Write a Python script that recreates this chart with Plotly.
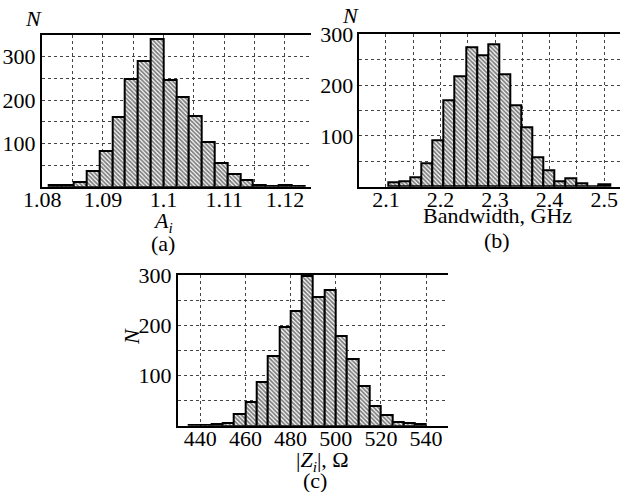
import plotly.graph_objects as go

# ---- data ----
a_centers = [1.08206, 1.08417, 1.08628, 1.08839, 1.0905, 1.09261, 1.09472, 1.09683, 1.09894, 1.10105,
             1.10316, 1.10527, 1.10738, 1.10949, 1.1116, 1.11371, 1.11582, 1.11793, 1.12004, 1.12215]
a_counts = [3, 4, 12, 37, 82, 160, 248, 290, 341, 247, 207, 164, 102, 55, 29, 15, 4, 2, 3, 2]
a_width = 0.00211

b_centers = [2.11445, 2.13475, 2.15505, 2.17535, 2.19565, 2.21595, 2.23625, 2.25655, 2.27685, 2.29715,
             2.31745, 2.33775, 2.35805, 2.37835, 2.39865, 2.41895, 2.43925, 2.45955, 2.47985, 2.50015]
b_counts = [8, 10, 18, 47, 92, 171, 217, 274, 259, 280, 222, 160, 116, 57, 32, 11, 16, 7, 1, 5]
b_width = 0.0203

c_centers = [437.5, 442.5, 447.5, 452.5, 457.5, 462.5, 467.5, 472.5, 477.5, 482.5, 487.5,
             492.5, 497.5, 502.5, 507.5, 512.5, 517.5, 522.5, 527.5, 532.5, 537.5]
c_counts = [1, 1, 3, 5, 23, 48, 87, 138, 197, 229, 298, 256, 270, 179, 133, 79, 39, 21, 7, 5, 3]
c_width = 5

a_ticks = [1.08, 1.085, 1.09, 1.095, 1.1, 1.105, 1.11, 1.115, 1.12]
a_ticktext = ["1.08", "", "1.09", "", "1.1", "", "1.11", "", "1.12"]
b_ticks = [2.1, 2.15, 2.2, 2.25, 2.3, 2.35, 2.4, 2.45, 2.5]
b_ticktext = ["2.1", "", "2.2", "", "2.3", "", "2.4", "", "2.5"]
c_ticks = [440, 460, 480, 500, 520, 540]
c_ticktext = ["440", "460", "480", "500", "520", "540"]
y_ticks = [50, 100, 150, 200, 250, 300, 350]
y_ticktext = ["", "100", "", "200", "", "300", ""]

FONT = "Liberation Serif"
W, H = 627, 492

bar_style = dict(
    marker=dict(color="white", line=dict(color="black", width=2),
                pattern=dict(shape="\\", size=3, solidity=0.6, fgcolor="black", bgcolor="white")),
    showlegend=False,
)

fig = go.Figure()
fig.add_trace(go.Bar(x=a_centers, y=a_counts, width=a_width, xaxis="x", yaxis="y", **bar_style))
fig.add_trace(go.Bar(x=b_centers, y=b_counts, width=b_width, xaxis="x2", yaxis="y2", **bar_style))
fig.add_trace(go.Bar(x=c_centers, y=c_counts, width=c_width, xaxis="x3", yaxis="y3", **bar_style))

grid = dict(showgrid=True, gridcolor="#444", griddash="dot", gridwidth=1, zeroline=False,
            showline=True, linecolor="black", linewidth=1.5, ticks="", automargin=False,
            tickfont=dict(family=FONT, size=22, color="black"))

def xa(domain, rng, tv, tt, anchor):
    return dict(domain=domain, range=rng, tickmode="array", tickvals=tv, ticktext=tt,
                anchor=anchor, mirror=True, ticklabelstandoff=-8, **grid)

def ya(domain, rng, anchor):
    return dict(domain=domain, range=rng, tickmode="array", tickvals=y_ticks, ticktext=y_ticktext,
                anchor=anchor, mirror=False, **grid)

def px(x):
    return x / W

def py(y):
    return 1 - y / H

fig.update_layout(
    width=W, height=H,
    margin=dict(l=0, r=0, t=0, b=0),
    paper_bgcolor="white", plot_bgcolor="white",
    bargap=0,
    font=dict(family=FONT, size=22, color="black"),
    xaxis=xa([px(41.7), px(311)], [1.0799, 1.1243], a_ticks, a_ticktext, "y"),
    yaxis=ya([py(186.7), py(35)], [0, 350], "x"),
    xaxis2=xa([px(359.3), px(620)], [2.0512, 2.529], b_ticks, b_ticktext, "y2"),
    yaxis2=ya([py(186.7), py(34.3)], [0, 300], "x2"),
    xaxis3=xa([px(177.7), px(448)], [430, 549.7], c_ticks, c_ticktext, "y3"),
    yaxis3=ya([py(425.7), py(275)], [0, 300], "x3"),
)

def ann(text, x, y, angle=0):
    fig.add_annotation(text=text, x=px(x), y=py(y), xref="paper", yref="paper",
                       showarrow=False, xanchor="center", yanchor="middle",
                       textangle=angle, font=dict(family=FONT, size=22, color="black"))

ann("<i>N</i>", 33, 18)
ann("<i>A<sub>i</sub></i>", 163, 222)
ann("(a)", 163, 243)
ann("<i>N</i>", 350, 15)
ann("Bandwidth, GHz", 497, 215)
ann("(b)", 497, 240)
ann("<i>N</i>", 131, 337, angle=-90)
ann("|<i>Z<sub>i</sub></i>|, Ω", 322, 461)
ann("(c)", 315, 480)

fig.write_html("out.html", config={"displayModeBar": False},
               post_script="document.body.style.margin='0';document.body.style.padding='0';")
